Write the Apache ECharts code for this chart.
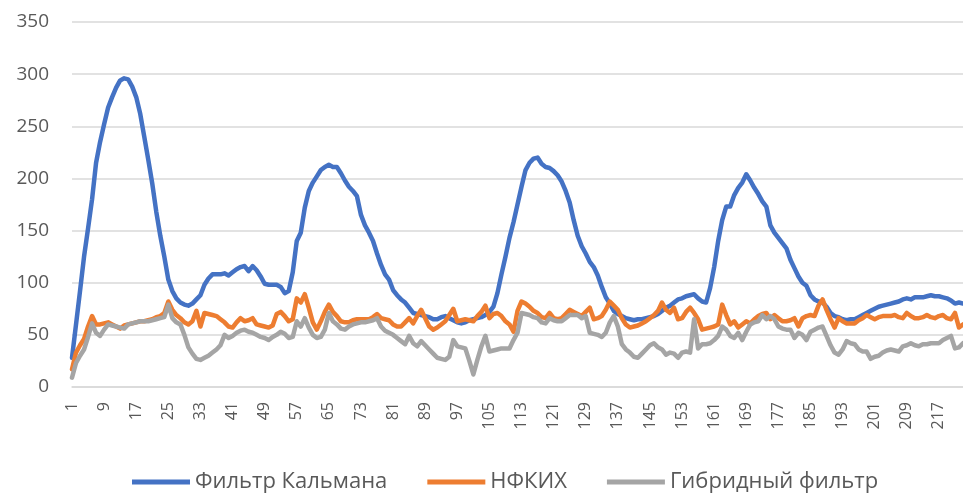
<!DOCTYPE html>
<html>
<head>
<meta charset="utf-8">
<script src="https://cdn.jsdelivr.net/npm/echarts@6/dist/echarts.min.js"></script>
<style>
  html, body { margin: 0; padding: 0; background: #fff; }
  #chart { width: 963px; height: 495px; }
</style>
</head>
<body>
<div id="chart"></div>
<script>
// Фильтр Кальмана
const kalman = [
  28, 60, 92, 125, 152, 180, 215, 235, 252, 268, 278, 287, 294, 296, 295, 288, 278, 262, 240, 218,
  195, 168, 145, 125, 103, 92, 85, 81, 79, 78, 80, 84, 88, 98, 104, 108, 108, 108, 109, 107,
  110, 113, 115, 116, 111, 116, 112, 106, 99, 98, 98, 98, 96, 90, 92, 110, 140, 148, 172, 188,
  196, 202, 208, 211, 213, 211, 211, 205, 198, 192, 188, 183, 165, 155, 148, 140, 128, 117, 108, 103,
  93, 88, 84, 81, 76, 71, 70, 69, 68, 67, 65, 65, 67, 68, 66, 64, 62, 61, 62, 64,
  65, 66, 67, 69, 72, 77, 90, 108, 125, 143, 158, 175, 192, 208, 215, 219, 220, 214, 211, 210,
  207, 203, 197, 188, 177, 160, 145, 135, 128, 120, 115, 107, 96, 86, 80, 73, 70, 68, 66, 65,
  64, 65, 65, 66, 67, 68, 70, 73, 76, 78, 81, 84, 85, 87, 88, 89, 85, 82, 81, 95,
  115, 140, 160, 173, 173, 184, 191, 196, 204, 198, 191, 185, 178, 173, 155, 148, 143, 138, 133, 122,
  114, 106, 100, 97, 88, 84, 82, 81, 77, 71, 68, 67, 65, 64, 65, 65, 67, 69, 71, 73,
  75, 77, 78, 79, 80, 81, 82, 84, 85, 84, 86, 86, 86, 87, 88, 87, 87, 86, 85, 83,
  80, 81, 80
];

// НФКИХ
const nfkih = [
  17, 33, 40, 46, 58, 68, 60, 60, 61, 62, 60, 58, 56, 59, 60, 61, 62, 63, 63, 64,
  65, 67, 68, 71, 82, 74, 69, 66, 62, 60, 63, 73, 58, 71, 70, 69, 68, 65, 62, 58,
  57, 62, 66, 63, 64, 66, 60, 59, 58, 57, 59, 70, 72, 68, 63, 65, 85, 81, 89, 76,
  62, 55, 63, 72, 79, 72, 68, 63, 62, 62, 64, 65, 65, 65, 65, 67, 70, 66, 65, 64,
  60, 58, 58, 62, 66, 61, 68, 74, 66, 58, 55, 57, 60, 63, 69, 75, 63, 64, 65, 64,
  63, 68, 72, 78, 66, 70, 71, 68, 63, 60, 53, 73, 82, 80, 77, 73, 71, 67, 66, 71,
  66, 65, 66, 70, 74, 72, 70, 68, 72, 76, 65, 66, 68, 74, 82, 78, 74, 66, 60, 57,
  58, 59, 61, 63, 66, 69, 73, 81, 74, 71, 76, 65, 66, 72, 76, 71, 65, 55, 56, 57,
  58, 60, 79, 69, 60, 63, 57, 60, 63, 61, 65, 68, 70, 71, 65, 69, 66, 63, 63, 64,
  66, 58, 66, 68, 69, 68, 78, 84, 74, 65, 57, 66, 63, 61, 61, 61, 64, 66, 69, 67,
  65, 67, 68, 68, 68, 69, 67, 66, 71, 68, 66, 66, 67, 69, 67, 66, 68, 69, 66, 65,
  71, 57, 60
];

// Гибридный фильтр
const hybrid = [
  9, 23, 30, 36, 48, 61, 52, 49, 55, 60, 59, 58, 57, 56, 60, 61, 62, 63, 63, 63,
  64, 65, 66, 67, 79, 66, 62, 60, 50, 38, 32, 27, 26, 28, 30, 33, 36, 40, 50, 47,
  49, 52, 54, 55, 53, 52, 50, 48, 47, 45, 48, 50, 53, 51, 47, 48, 63, 58, 66, 57,
  50, 47, 48, 55, 71, 63, 60, 56, 55, 58, 60, 61, 62, 62, 63, 64, 66, 58, 54, 52,
  50, 47, 44, 41, 49, 42, 39, 44, 40, 36, 32, 28, 27, 26, 29, 45, 39, 38, 37, 25,
  12, 26, 39, 49, 34, 35, 36, 37, 37, 37, 45, 52, 71, 70, 69, 67, 66, 62, 61, 66,
  64, 63, 63, 66, 69, 69, 69, 66, 68, 52, 51, 50, 48, 52, 62, 68, 58, 41, 36, 33,
  29, 28, 32, 36, 40, 42, 38, 36, 31, 33, 32, 28, 33, 34, 33, 65, 37, 41, 41, 42,
  45, 49, 58, 55, 49, 47, 52, 45, 53, 60, 62, 63, 69, 65, 68, 65, 58, 56, 55, 55,
  47, 52, 50, 45, 53, 55, 57, 58, 49, 40, 33, 31, 36, 44, 42, 41, 36, 34, 34, 27,
  29, 30, 33, 35, 36, 35, 34, 39, 40, 42, 40, 39, 41, 41, 42, 42, 42, 45, 47, 49,
  37, 38, 42
];

const categories = kalman.map((_, i) => String(i + 1));
const seriesNames = ["Фильтр Кальмана", "НФКИХ", "Гибридный фильтр"];
const seriesColors = ["#4472C4", "#ED7D31", "#A5A5A5"];

const chart = echarts.init(document.getElementById("chart"));

const lineSeries = (name, data, color) => ({
  name: name,
  type: "line",
  data: data,
  showSymbol: false,
  symbol: "none",
  animation: false,
  lineStyle: { color: color, width: 4.5, join: "round", cap: "round" },
  itemStyle: { color: color },
});

const option = {
  backgroundColor: "#fff",
  textStyle: { fontFamily: "Open Sans" },
  grid: { left: 72, right: 0, top: 22, bottom: 108 },
  legend: {
    left: 127,
    top: 466,
    itemWidth: 58,
    itemHeight: 5,
    itemGap: 40,
    icon: "rect",
    textStyle: { color: "#595959", fontSize: 22, fontFamily: "Open Sans" },
    data: seriesNames,
  },
  xAxis: {
    type: "category",
    data: categories,
    boundaryGap: false,
    axisLine: { lineStyle: { color: "#d9d9d9", width: 1.5 } },
    axisTick: { show: false },
    axisLabel: {
      interval: 7,
      rotate: 90,
      margin: 15,
      color: "#595959",
      fontSize: 16,
      fontFamily: "Open Sans",
    },
  },
  yAxis: {
    type: "value",
    min: 0,
    max: 350,
    interval: 50,
    axisLine: { show: false },
    axisTick: { show: false },
    splitLine: { lineStyle: { color: "#d9d9d9", width: 1.5 } },
    axisLabel: {
      margin: 23,
      color: "#595959",
      fontSize: 19,
      fontFamily: "Open Sans",
    },
  },
  series: [
    lineSeries(seriesNames[0], kalman, seriesColors[0]),
    lineSeries(seriesNames[1], nfkih, seriesColors[1]),
    lineSeries(seriesNames[2], hybrid, seriesColors[2]),
  ],
};

chart.setOption(option);
window.addEventListener("resize", () => chart.resize());
</script>
</body>
</html>
